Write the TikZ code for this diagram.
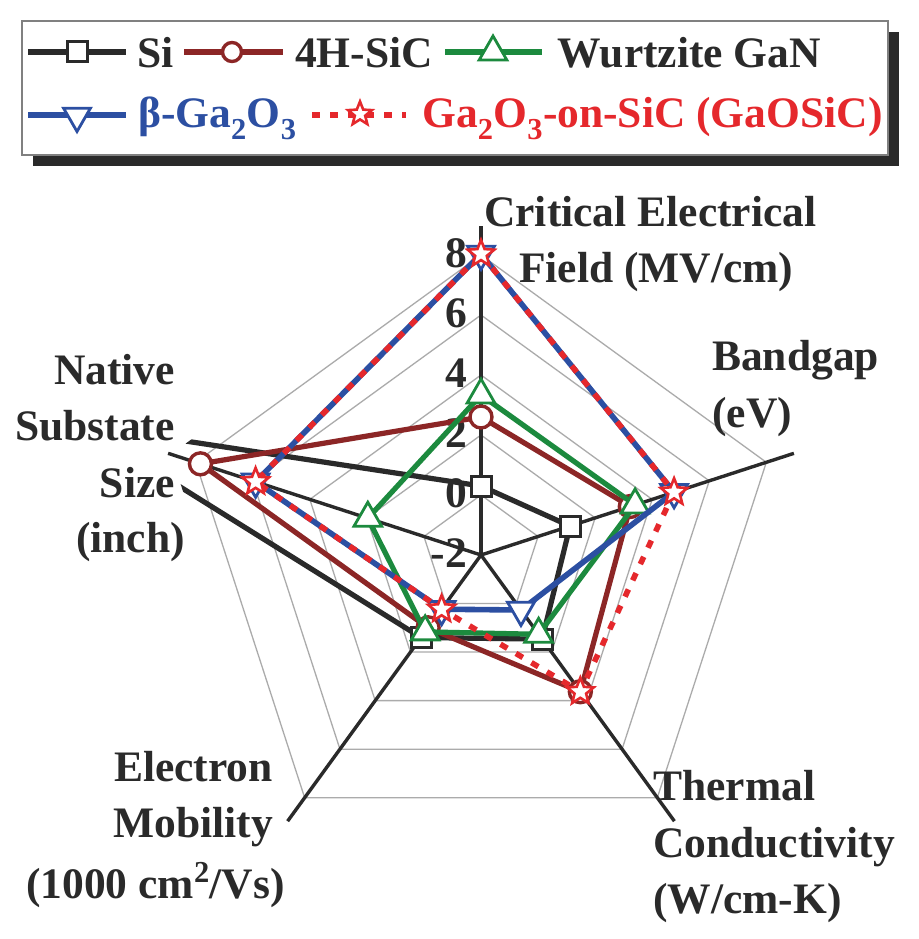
\documentclass[tikz,border=0pt]{standalone}
\usepackage{fontspec}
\setmainfont{Liberation Serif}
\usetikzlibrary{shapes.geometric}
\definecolor{dk}{HTML}{2A2A2A}
\definecolor{sicc}{HTML}{8C2626}
\definecolor{ganc}{HTML}{1C8A3E}
\definecolor{gaoc}{HTML}{2C4FA2}
\definecolor{redc}{HTML}{E5282C}
\definecolor{gridc}{HTML}{ABABAB}
\tikzset{
  lab/.style={font=\fontsize{43.5}{50}\selectfont\bfseries, text=dk, inner sep=0pt},
  gridline/.style={draw=gridc, line width=1.3pt},
  axisline/.style={draw=dk, line width=3.4pt},
  siline/.style={draw=dk, line width=5.2pt, line join=round},
  sicline/.style={draw=sicc, line width=5.2pt, line join=round},
  ganline/.style={draw=ganc, line width=5.2pt, line join=round},
  gaoline/.style={draw=gaoc, line width=5.6pt, line join=round},
  gosline/.style={draw=redc, line width=5.6pt, dash pattern=on 8pt off 10pt},
  sqmark/.style={rectangle, draw=dk, fill=white, line width=3pt, minimum size=20pt, inner sep=0pt},
  cimark/.style={circle, draw=sicc, fill=white, line width=3.4pt, minimum size=22pt, inner sep=0pt},
  trmark/.style={regular polygon, regular polygon sides=3, draw=ganc, fill=white, line width=2.8pt, minimum size=32pt, inner sep=0pt},
  dtmark/.style={regular polygon, regular polygon sides=3, shape border rotate=180, draw=gaoc, fill=white, line width=2.8pt, minimum size=31pt, inner sep=0pt},
  stmark/.style={star, star points=5, star point ratio=2.3, draw=redc, fill=white, line width=2.6pt, minimum size=28pt, inner sep=0pt},
}
\begin{document}
\begin{tikzpicture}[x=1pt,y=1pt]
\useasboundingbox (0,0) rectangle (918,-939);
\fill[white] (0,0) rectangle (918,-939);

% ---------------- legend ----------------
\fill[dk] (33,-32) rectangle (899,-166);
\draw[draw=gray, line width=1.2pt, fill=white] (22,-21) rectangle (888,-155);

\coordinate (lsiA) at (28,-52); \coordinate (lsiB) at (126,-52);
\draw[siline] (lsiA) -- (lsiB);
\node[sqmark] (lsiM) at (77,-52) {};
\node[lab, anchor=base west] (lsiT) at (137,-68) {Si};

\coordinate (lscA) at (184,-52); \coordinate (lscB) at (283,-52);
\draw[sicline] (lscA) -- (lscB);
\node[cimark, minimum size=19pt] (lscM) at (232,-52) {};
\node[lab, anchor=base west] (lscT) at (295,-68) {4H-SiC};

\coordinate (lgnA) at (445,-52); \coordinate (lgnB) at (542,-52);
\draw[ganline] (lgnA) -- (lgnB);
\node[trmark] (lgnM) at (493,-52) {};
\node[lab, anchor=base west] (lgnT) at (557,-68) {Wurtzite GaN};

\coordinate (lgoA) at (28,-115); \coordinate (lgoB) at (126,-115);
\draw[gaoline] (lgoA) -- (lgoB);
\node[dtmark] (lgoM) at (77,-116) {};
\node[lab, anchor=base west, text=gaoc] (lgoT) at (138,-128) {β-Ga\textsubscript{2}O\textsubscript{3}};

\coordinate (lgsA) at (312,-115); \coordinate (lgsB) at (406,-115);
\draw[gosline] (lgsA) -- (lgsB);
\node[stmark, minimum size=25pt] (lgsM) at (360,-114) {};
\node[lab, anchor=base west, text=redc] (lgsT) at (422,-128) {Ga\textsubscript{2}O\textsubscript{3}-on-SiC (GaOSiC)};

% ---------------- radar chart ----------------
\begin{scope}[shift={(481,-555)}]
  \foreach \r in {60,120,180,240,300}
    \draw[gridline] (90:\r) -- (18:\r) -- (-54:\r) -- (-126:\r) -- (162:\r) -- cycle;
  \foreach \v/\r [count=\i] in {8/300,6/240,4/180,2/120,0/60,-2/0}
    \node[lab, anchor=east] (tick\i) at (-14,\r+2) {\v};
  \foreach \a [count=\i] in {90,18,-54,-126,162}
    { \coordinate (ax\i) at (\a:329); \draw[axisline] (0,0) -- (ax\i); }

  % Si
  \coordinate (si1) at (90:69);  \coordinate (si2) at (18:93.6);
  \coordinate (si3) at (-54:104); \coordinate (si4) at (-126:102);
  \coordinate (si5) at (162:420);
  \begin{scope}
    \clip (90:326) -- (18:326) -- (-54:326) -- (-126:326) -- (162:326) -- cycle;
    \draw[siline] (si1) -- (si2) -- (si3) -- (si4) -- (si5) -- cycle;
  \end{scope}
  \foreach \i in {1,...,4} \node[sqmark] (msi\i) at (si\i) {};

  % 4H-SiC
  \coordinate (sc1) at (90:138); \coordinate (sc2) at (18:157);
  \coordinate (sc3) at (-54:169); \coordinate (sc4) at (-126:90);
  \coordinate (sc5) at (162:295);
  \draw[sicline] (sc1) -- (sc2) -- (sc3) -- (sc4) -- (sc5) -- cycle;
  \foreach \i in {1,...,5} \node[cimark] (msc\i) at (sc\i) {};

  % GaN
  \coordinate (gn1) at (90:160); \coordinate (gn2) at (18:162);
  \coordinate (gn3) at (-54:98); \coordinate (gn4) at (-126:95);
  \coordinate (gn5) at (162:119);
  \draw[ganline] (gn1) -- (gn2) -- (gn3) -- (gn4) -- (gn5) -- cycle;
  \foreach \i in {1,...,5} \node[trmark] (mgn\i) at (gn\i) {};

  % beta-Ga2O3
  \coordinate (go1) at (90:301); \coordinate (go2) at (18:203);
  \coordinate (go3) at (-54:68); \coordinate (go4) at (-126:67);
  \coordinate (go5) at (162:237);
  \draw[gaoline] (go1) -- (go2) -- (go3) -- (go4) -- (go5) -- cycle;
  \foreach \i in {1,...,5} \node[dtmark] (mgo\i) at (go\i) {};

  % GaOSiC
  \coordinate (gs1) at (90:301); \coordinate (gs2) at (18:203);
  \coordinate (gs3) at (-54:169); \coordinate (gs4) at (-126:67);
  \coordinate (gs5) at (162:237);
  \draw[gosline] (gs1) -- (gs2) -- (gs3) -- (gs4) -- (gs5) -- cycle;
  \foreach \i in {1,...,5} \node[stmark] (mgs\i) at (gs\i) {};
\end{scope}

% ---------------- axis labels ----------------
\node[lab, anchor=base west] (cf1) at (484,-226) {Critical Electrical};
\node[lab, anchor=base west] (cf2) at (519,-282) {Field (MV/cm)};
\node[lab, anchor=base west] (bg1) at (712,-370) {Bandgap};
\node[lab, anchor=base west] (bg2) at (712,-427) {(eV)};
\node[lab, anchor=base west] (tc1) at (653,-800) {Thermal};
\node[lab, anchor=base west] (tc2) at (653,-857) {Conductivity};
\node[lab, anchor=base west] (tc3) at (653,-913) {(W/cm-K)};
\node[lab, anchor=base east] (em1) at (273,-781) {Electron};
\node[lab, anchor=base east] (em2) at (273,-837) {Mobility};
\node[lab, anchor=base east] (em3) at (285,-898) {(1000 cm\raisebox{6pt}{\textsuperscript{2}}/Vs)};
\node[lab, anchor=base east] (ns1) at (175,-384) {Native};
\node[lab, anchor=base east] (ns2) at (175,-440) {Substate};
\node[lab, anchor=base east] (ns3) at (175,-497) {Size};
\node[lab, anchor=base east] (ns4) at (185,-552) {(inch)};
\end{tikzpicture}
\end{document}
